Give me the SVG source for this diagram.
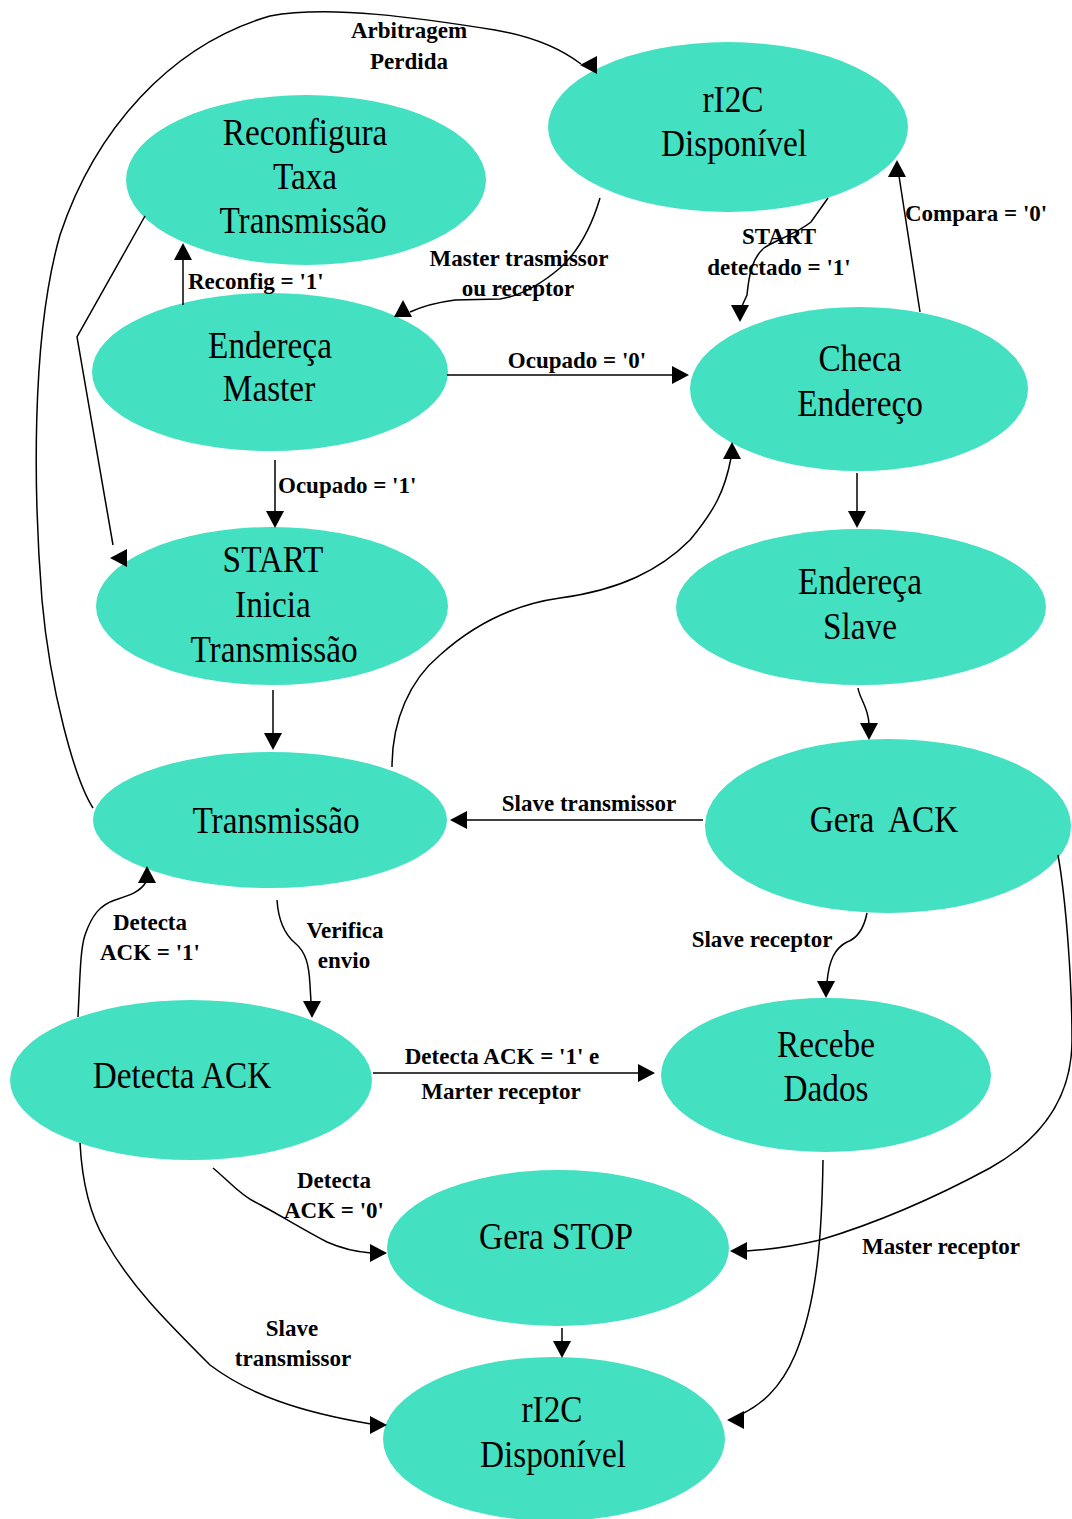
<svg xmlns="http://www.w3.org/2000/svg" xmlns:xlink="http://www.w3.org/1999/xlink" width="1072" height="1519" viewBox="0 0 1072 1519">
  <style>
    .st { fill: #43E0C1; stroke: none; }
    .n { font-family: "Liberation Serif", "Times New Roman", serif; font-size: 37px; fill: #000; text-anchor: middle; }
    .lb { font-family: "Liberation Serif", "Times New Roman", serif; font-size: 23px; font-weight: bold; fill: #000; text-anchor: middle; }
    .lbs { text-anchor: start; }
    .ln { fill: none; stroke: #000; stroke-width: 1.5; }
    .ah { fill: #000; }
  </style>
  <defs>
    <!-- arrowhead with its tip at the origin, pointing along +x -->
    <path id="ah" d="M0,0 L-17,-9 L-17,9 Z"/>
  </defs>

  <rect width="1072" height="1519" fill="#fff"/>

  <!-- state nodes -->
  <g id="node-ri2c-top">
    <ellipse class="st" cx="728" cy="127" rx="180" ry="85"/>
    <text class="n" transform="translate(733,112) scale(.9,1)">rI2C</text>
    <text class="n" transform="translate(734,156) scale(.9,1)">Disponível</text>
  </g>
  <g id="node-reconfigura">
    <ellipse class="st" cx="306" cy="180" rx="180" ry="85"/>
    <text class="n" transform="translate(305,145) scale(.9,1)">Reconfigura</text>
    <text class="n" transform="translate(305,189) scale(.9,1)">Taxa</text>
    <text class="n" transform="translate(303,233) scale(.9,1)">Transmissão</text>
  </g>
  <g id="node-endereca-master">
    <ellipse class="st" cx="270" cy="372" rx="178" ry="79"/>
    <text class="n" transform="translate(270,358) scale(.9,1)">Endereça</text>
    <text class="n" transform="translate(269,401) scale(.9,1)">Master</text>
  </g>
  <g id="node-checa-endereco">
    <ellipse class="st" cx="859" cy="389" rx="169" ry="82"/>
    <text class="n" transform="translate(860,371) scale(.9,1)">Checa</text>
    <text class="n" transform="translate(860,416) scale(.9,1)">Endereço</text>
  </g>
  <g id="node-start">
    <ellipse class="st" cx="272" cy="606" rx="176" ry="79"/>
    <text class="n" transform="translate(273,572) scale(.9,1)">START</text>
    <text class="n" transform="translate(273,617) scale(.9,1)">Inicia</text>
    <text class="n" transform="translate(274,662) scale(.9,1)">Transmissão</text>
  </g>
  <g id="node-endereca-slave">
    <ellipse class="st" cx="861" cy="607" rx="185" ry="78"/>
    <text class="n" transform="translate(860,594) scale(.9,1)">Endereça</text>
    <text class="n" transform="translate(860,639) scale(.9,1)">Slave</text>
  </g>
  <g id="node-transmissao">
    <ellipse class="st" cx="270" cy="820" rx="177" ry="68"/>
    <text class="n" transform="translate(276,833) scale(.9,1)">Transmissão</text>
  </g>
  <g id="node-gera-ack">
    <ellipse class="st" cx="888" cy="826" rx="183" ry="87"/>
    <text class="n" transform="translate(884,832) scale(.9,1)" word-spacing="8">Gera ACK</text>
  </g>
  <g id="node-detecta-ack">
    <ellipse class="st" cx="191" cy="1080" rx="181" ry="80"/>
    <text class="n" transform="translate(182,1088) scale(.9,1)">Detecta ACK</text>
  </g>
  <g id="node-recebe-dados">
    <ellipse class="st" cx="826" cy="1075" rx="165" ry="77"/>
    <text class="n" transform="translate(826,1057) scale(.9,1)">Recebe</text>
    <text class="n" transform="translate(826,1101) scale(.9,1)">Dados</text>
  </g>
  <g id="node-gera-stop">
    <ellipse class="st" cx="558" cy="1248" rx="171" ry="78"/>
    <text class="n" transform="translate(556,1249) scale(.9,1)">Gera STOP</text>
  </g>
  <g id="node-ri2c-bottom">
    <ellipse class="st" cx="554" cy="1439" rx="171" ry="82"/>
    <text class="n" transform="translate(552,1422) scale(.9,1)">rI2C</text>
    <text class="n" transform="translate(553,1467) scale(.9,1)">Disponível</text>
  </g>

  <!-- transitions -->
  <g id="connectors">
    <!-- Transmissão -> rI2C Disponível (Arbitragem Perdida) -->
    <path class="ln" d="M93,808 C75,780 50,690 42,600 C34,500 30,340 60,235 C95,130 170,45 270,16 C330,5 420,18 495,30 C530,36 560,48 581,64"/>
    <use href="#ah" class="ah" transform="translate(580,65) rotate(180)"/>
    <!-- Reconfigura -> START -->
    <path class="ln" d="M145,216 L77,337 L113,545"/>
    <use href="#ah" class="ah" transform="translate(110,558) rotate(180)"/>
    <!-- Endereça Master -> Reconfigura -->
    <path class="ln" d="M183,305 L183,258"/>
    <use href="#ah" class="ah" transform="translate(183,243) rotate(-90)"/>
    <!-- rI2C -> Endereça Master -->
    <path class="ln" d="M600,198 C592,225 580,250 560,268 C540,285 520,296 500,299 L455,300 C440,302 425,305 410,312"/>
    <use href="#ah" class="ah" transform="translate(403,300) rotate(-90)"/>
    <!-- rI2C -> Checa Endereço -->
    <path class="ln" d="M828,198 L811,222 C795,235 775,240 764,248 C752,258 749,275 747,295 L742,306"/>
    <use href="#ah" class="ah" transform="translate(740,322) rotate(90)"/>
    <!-- Checa Endereço -> rI2C -->
    <path class="ln" d="M920,312 L899,176"/>
    <use href="#ah" class="ah" transform="translate(897,160) rotate(-90)"/>
    <!-- Endereça Master -> Checa Endereço -->
    <path class="ln" d="M447,375 L674,375"/>
    <use href="#ah" class="ah" transform="translate(689,375)"/>
    <!-- Endereça Master -> START -->
    <path class="ln" d="M275,460 L275,512"/>
    <use href="#ah" class="ah" transform="translate(275,528) rotate(90)"/>
    <!-- START -> Transmissão -->
    <path class="ln" d="M273,690 L273,734"/>
    <use href="#ah" class="ah" transform="translate(273,750) rotate(90)"/>
    <!-- Checa Endereço -> Endereça Slave -->
    <path class="ln" d="M857,473 L857,512"/>
    <use href="#ah" class="ah" transform="translate(857,528) rotate(90)"/>
    <!-- Endereça Slave -> Gera ACK -->
    <path class="ln" d="M858,688 C860,700 868,706 869,724"/>
    <use href="#ah" class="ah" transform="translate(869,740) rotate(90)"/>
    <!-- Gera ACK -> Transmissão -->
    <path class="ln" d="M703,820 L466,820"/>
    <use href="#ah" class="ah" transform="translate(450,820) rotate(180)"/>
    <!-- Gera ACK -> Recebe Dados -->
    <path class="ln" d="M867,913 C864,928 858,938 847,942 C835,948 829,960 827,982"/>
    <use href="#ah" class="ah" transform="translate(826,998) rotate(90)"/>
    <!-- Transmissão -> Checa Endereço -->
    <path class="ln" d="M392,767 C392,720 410,680 440,655 C470,628 510,605 560,598 C620,590 660,570 690,540 C715,510 725,490 731,458"/>
    <use href="#ah" class="ah" transform="translate(732,442) rotate(-90)"/>
    <!-- Gera ACK -> Gera STOP -->
    <path class="ln" d="M1058,855 C1066,900 1072,980 1072,1040 C1072,1100 1040,1140 990,1168 C940,1195 880,1222 820,1240 C790,1247 765,1250 746,1251"/>
    <use href="#ah" class="ah" transform="translate(730,1251) rotate(180)"/>
    <!-- Recebe Dados -> rI2C (bottom) -->
    <path class="ln" d="M823,1160 C822,1230 818,1300 795,1355 C780,1390 760,1405 742,1414"/>
    <use href="#ah" class="ah" transform="translate(727,1420) rotate(180)"/>
    <!-- Transmissão -> Detecta ACK -->
    <path class="ln" d="M277,900 C278,915 282,932 295,943 C306,952 309,965 310,985 L311,1002"/>
    <use href="#ah" class="ah" transform="translate(312,1018) rotate(90)"/>
    <!-- Detecta ACK -> Transmissão -->
    <path class="ln" d="M78,1017 C80,980 80,950 85,935 C92,915 100,905 115,900 C130,895 140,892 146,882"/>
    <use href="#ah" class="ah" transform="translate(147,866) rotate(-90)"/>
    <!-- Detecta ACK -> Recebe Dados -->
    <path class="ln" d="M373,1073 L639,1073"/>
    <use href="#ah" class="ah" transform="translate(655,1073)"/>
    <!-- Detecta ACK -> Gera STOP -->
    <path class="ln" d="M213,1168 C230,1182 240,1195 255,1202 C275,1212 300,1228 327,1242 C345,1250 358,1252 371,1253"/>
    <use href="#ah" class="ah" transform="translate(387,1253)"/>
    <!-- Gera STOP -> rI2C (bottom) -->
    <path class="ln" d="M562,1328 L562,1342"/>
    <use href="#ah" class="ah" transform="translate(562,1358) rotate(90)"/>
    <!-- Detecta ACK -> rI2C (bottom) -->
    <path class="ln" d="M80,1143 C82,1180 90,1215 105,1240 C130,1285 165,1320 210,1365 C250,1395 300,1412 371,1424"/>
    <use href="#ah" class="ah" transform="translate(387,1425)"/>

    <!-- transition labels -->
    <text class="lb" x="409" y="38">Arbitragem</text>
    <text class="lb" x="409" y="69">Perdida</text>
    <text class="lb lbs" x="188" y="289">Reconfig = '1'</text>
    <text class="lb" x="519" y="266">Master trasmissor</text>
    <text class="lb" x="518" y="296">ou receptor</text>
    <text class="lb" x="779" y="244">START</text>
    <text class="lb" x="779" y="275">detectado = '1'</text>
    <text class="lb lbs" x="905" y="221">Compara = '0'</text>
    <text class="lb" x="577" y="368">Ocupado = '0'</text>
    <text class="lb lbs" x="278" y="493">Ocupado = '1'</text>
    <text class="lb" x="589" y="811">Slave transmissor</text>
    <text class="lb" x="345" y="938">Verifica</text>
    <text class="lb" x="344" y="968">envio</text>
    <text class="lb" x="150" y="930">Detecta</text>
    <text class="lb" x="150" y="960">ACK = '1'</text>
    <text class="lb" x="762" y="947">Slave receptor</text>
    <text class="lb" x="502" y="1064">Detecta ACK = '1' e</text>
    <text class="lb" x="501" y="1099">Marter receptor</text>
    <text class="lb" x="334" y="1188">Detecta</text>
    <text class="lb" x="334" y="1218">ACK = '0'</text>
    <text class="lb" x="941" y="1254">Master receptor</text>
    <text class="lb" x="292" y="1336">Slave</text>
    <text class="lb" x="293" y="1366">transmissor</text>
  </g>
</svg>
